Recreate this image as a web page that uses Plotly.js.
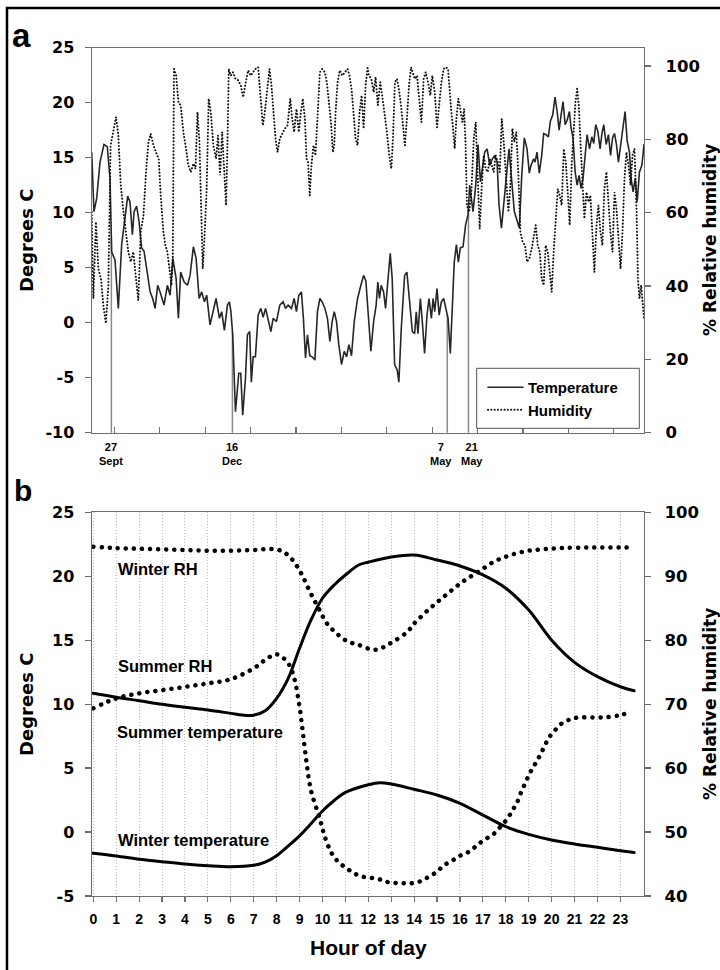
<!DOCTYPE html>
<html>
<head>
<meta charset="utf-8">
<script src="https://cdn.plot.ly/plotly-3.0.1.min.js"></script>
<style>
  html, body { margin: 0; padding: 0; background: #fff; }
  #chart { width: 720px; height: 970px; }
  path.js-line, .legendlines path { stroke-linecap: round; }
</style>
</head>
<body>
<div id="chart"></div>
<script>
// ---------- Panel a : daily series (day 0 = 14 Sept) ----------
const tempDays = [0,1.5,3.3,5.5,8.1,10.3,12.1,13.2,15.4,17.6,19.8,22.0,23.8,25.3,26.9,28.0,29.7,31.3,33.0,34.6,36.4,38.6,40.3,41.9,43.6,45.2,47.8,50.0,51.8,53.6,55.8,57.3,58.8,61.1,63.3,65.0,67.2,69.0,71.0,72.7,74.5,76.0,78.2,80.0,82.2,84.4,85.9,87.7,89.7,91.0,92.0,93.2,95.0,97.2,98.5,99.8,101.6,102.9,104.4,105.5,106.7,108.2,110.0,111.8,113.3,114.9,116.6,118.4,119.9,122.1,124.3,126.5,128.1,129.8,132.0,133.8,135.3,136.9,138.6,139.9,141.3,142.6,144.1,145.7,147.5,149.2,150.8,152.3,154.1,155.8,157.4,158.9,160.3,161.8,163.3,165.1,166.9,168.4,170.0,171.7,173.5,175.7,177.9,179.7,181.2,183.0,184.5,186.3,188.0,189.1,190.2,191.3,192.9,194.2,195.7,197.3,198.6,200.2,201.9,203.0,204.6,206.8,208.3,210.1,211.9,213.4,214.5,215.6,217.2,218.5,220.0,221.6,222.9,224.5,225.6,226.7,228.2,229.6,231.1,232.6,234.3,235.5,237.0,238.3,239.6,241.0,242.3,243.6,245.4,247.1,248.7,249.8,250.9,252.0,253.8,255.3,256.9,258.2,259.7,261.3,263.1,264.8,266.4,267.9,269.2,270.8,272.5,274.3,275.8,277.1,278.2,279.3,281.1,282.6,284.2,285.9,287.7,289.2,290.3,292.1,293.0,294.3,295.8,297.4,298.7,300.2,301.8,303.1,304.7,306.2,307.6,308.9,310.2,311.5,312.9,314.2,315.7,316.8,318.1,319.5,320.8,322.1,323.4,324.7,326.1,327.4,329.0,330.5,331.8,333.1,334.5,336.0,337.1,338.4,340.0,341.5,342.9,344.2,345.5,346.8,348.1,349.5,351.0,352.5,353.9,355.4,356.5,357.8,359.2,360.5,362.0,363.6,365.0];
const tempVals = [15.5,10.1,11.3,14.6,16.2,16.0,13.1,6.45,5.7,1.3,7.1,9.5,11.5,11.0,8.0,10.1,10.6,9.2,6.8,6.5,4.6,2.8,2.2,1.3,3.4,2.8,1.6,3.4,2.5,5.85,4.0,0.4,4.6,3.7,3.4,4.3,6.9,5.85,2.2,2.8,1.9,2.5,-0.2,1.0,2.2,0.4,1.0,-0.7,1.6,1.9,1.0,-1.1,-8.1,-4.6,-4.6,-8.4,-5.1,-1.1,-0.8,-5.4,-3.1,-3.1,0.7,1.3,0.5,1.3,0.4,-0.8,0.4,0.1,1.6,1.9,1.3,1.6,1.3,2.2,1.0,2.5,2.8,0.4,-3.2,-1.1,-3.0,-3.1,-3.4,1.0,2.2,1.9,1.3,0.4,-1.7,0.1,1.0,0.1,-2.0,-3.8,-2.6,-3.1,-2.0,-3.0,0.1,2.2,3.4,4.3,3.8,-0.2,-2.6,0.1,1.6,3.7,2.2,3.4,2.8,1.3,4.0,6.3,4.0,-3.8,-4.3,-5.4,-0.5,4.3,4.6,2.2,-0.8,-1.0,1.0,-1.0,2.2,0.1,-2.8,0.7,2.2,0.4,2.2,1.0,3.1,0.7,1.9,2.2,1.0,0.4,-2.8,1.9,5.5,7.1,5.5,6.8,6.9,8.9,9.8,12.5,11.0,10.1,12.5,16.2,12.8,14.0,15.5,15.8,14.3,14.9,15.2,14.6,10.7,8.6,11.0,13.9,15.8,13.7,11.9,10.1,9.3,8.6,13.4,16.8,15.8,13.6,14.3,14.9,14.6,15.5,13.6,15.2,17.2,17.1,16.9,18.3,18.9,20.5,19.2,17.5,18.9,20.1,18.0,18.4,19.2,17.7,16.8,13.7,12.5,13.4,12.2,13.1,15.2,17.1,15.8,16.9,16.3,18.0,17.4,15.8,17.1,18.0,16.2,17.1,15.2,16.8,17.2,16.2,14.6,16.0,17.4,19.2,16.5,15.5,13.1,11.9,13.1,11.0,13.7,14.3,16.2];

const humDays = [0,1.1,2.8,4.4,6.1,7.7,9.4,11.0,12.5,14.3,16.1,17.6,19.2,21.0,22.7,24.2,25.8,27.5,29.3,30.8,32.4,34.2,35.9,37.5,39.0,40.8,42.5,44.3,45.6,47.4,48.7,50.0,51.4,52.7,53.6,54.4,55.8,57.3,58.8,60.6,62.4,63.9,65.5,67.2,68.6,69.9,71.2,72.5,73.4,74.7,76.0,77.3,78.7,80.4,82.2,83.5,84.8,86.2,87.5,88.8,89.7,90.6,91.9,93.4,95.0,96.8,98.5,100.1,101.6,103.4,105.1,106.7,108.2,110.0,111.5,113.1,114.4,115.9,117.5,118.8,120.1,121.5,122.8,124.3,125.9,127.6,129.4,131.2,132.5,133.8,135.3,136.9,138.2,139.5,140.9,142.0,143.0,144.1,145.2,146.6,147.9,149.2,150.8,152.3,154.1,155.4,156.7,158.1,159.4,160.3,161.2,162.5,164.0,165.6,167.3,169.1,170.4,171.7,173.0,174.4,175.7,177.0,178.4,179.7,181.0,182.3,183.2,184.8,186.3,187.6,189.1,190.7,192.0,193.5,195.1,196.4,198.0,199.1,200.4,201.7,203.0,204.4,205.7,207.0,208.3,209.7,211.0,212.3,213.6,215.0,216.3,217.9,219.4,220.7,222.3,223.8,225.1,226.7,228.2,229.6,231.1,232.6,234.0,235.5,236.6,237.7,238.8,239.9,241.0,242.3,243.6,245.0,246.1,247.1,248.0,249.4,250.9,252.5,253.8,255.1,256.4,257.8,259.1,260.4,261.7,263.1,264.4,265.7,267.0,268.4,269.7,271.0,272.3,273.6,275.4,276.7,278.0,279.3,280.6,281.9,283.3,284.8,286.4,287.7,289.2,290.8,292.1,293.4,294.8,296.1,297.4,298.7,300.0,301.4,302.7,304.0,305.3,306.7,308.0,309.3,310.6,312.0,313.3,314.6,315.9,317.3,318.6,319.7,320.8,321.9,323.0,324.3,325.6,327.0,328.3,329.6,330.9,332.2,333.6,334.9,336.2,337.5,338.8,340.2,341.5,342.8,344.2,345.5,346.8,348.1,349.5,350.8,352.1,353.4,354.8,356.1,357.4,358.7,360.1,361.0,362.0,363.1,364.2,365.0];
const humVals = [60.2,36.6,57.5,44.7,42.0,34.8,29.8,40.2,78.4,82.0,86.1,81.1,67.5,60.2,54.7,49.3,46.6,49.3,42.0,36.1,54.7,59.3,71.1,79.3,81.5,78.4,76.5,74.7,64.7,54.7,51.1,49.3,44.7,40.2,47.5,99.2,97.4,90.2,89.3,82.0,77.4,72.9,71.1,73.4,72.0,87.4,79.3,54.7,44.7,54.7,66.5,91.1,87.4,78.4,74.7,81.1,70.2,82.0,71.1,62.0,78.4,99.2,97.4,98.3,96.5,96.1,94.7,91.5,95.2,98.8,97.4,98.3,99.2,99.7,92.9,83.8,87.4,93.8,99.2,94.7,87.4,80.2,76.5,80.2,81.5,82.9,83.8,91.1,85.6,82.0,88.3,82.0,87.4,91.1,85.6,74.7,73.8,64.7,72.9,78.4,75.6,86.5,98.3,99.2,98.3,95.6,91.1,84.7,76.5,78.4,87.4,95.6,98.8,97.4,98.3,99.2,97.4,93.8,87.4,80.2,78.4,87.4,92.0,82.9,94.7,99.5,97.4,96.5,92.9,97.0,89.3,95.6,92.0,87.4,82.0,76.5,72.0,80.2,95.6,96.5,93.8,89.3,83.8,78.4,85.6,94.7,99.7,98.3,96.5,97.4,92.0,84.7,96.5,98.3,95.6,92.0,97.4,92.9,83.3,89.3,95.6,99.2,99.7,99.2,92.0,87.4,82.9,77.5,85.6,91.1,88.3,84.7,88.3,78.4,62.0,60.2,65.6,80.2,84.7,71.1,55.6,67.5,75.6,72.0,71.1,74.7,72.9,71.1,75.6,73.8,71.1,85.6,79.3,71.1,60.2,67.5,82.9,79.3,82.0,71.1,54.7,52.0,51.1,46.6,47.5,50.2,52.9,56.6,51.1,49.3,42.0,40.2,51.1,49.3,43.8,38.4,49.3,60.2,66.5,64.7,62.0,77.4,73.8,65.6,56.6,73.8,84.7,90.2,93.8,89.3,79.3,67.5,58.4,65.6,62.9,64.7,54.7,43.8,56.6,62.0,54.7,51.1,66.5,71.1,62.9,54.7,49.3,65.6,61.1,52.9,44.7,54.7,69.3,76.5,72.9,67.5,75.6,77.4,60.2,42.0,36.6,40.2,33.8,31.1];

const markerDays   = [13, 93, 235, 249];
const markerLabels = ['27<br>Sept', '16<br>Dec', '7<br>May', '21<br>May'];
const monthTickDays = [15,45,75,105,135,165,195,225,255,285,315,345];
const tempTicksA = [-10,-5,0,5,10,15,20,25];
const humTicksA  = [0,20,40,60,80,100];

// ---------- Panel b : diurnal curves ----------
const sumTempHour = [0,1,2,3,4,5,6,6.5,7,7.5,8,8.5,9,9.5,10,10.5,11,11.6,12,13,14,15,16,17,18,19,20,21,22,23,23.6];
const sumTempVals = [10.85,10.54,10.27,9.99,9.75,9.54,9.28,9.15,9.14,9.49,10.46,12.0,14.37,16.58,18.28,19.3,20.1,20.9,21.1,21.5,21.66,21.27,20.8,20.1,19.06,17.36,15.0,13.27,12.15,11.36,11.05];

const winTempHour = [0,1,2,3,4,5,6,7,7.5,8,8.5,9,9.5,10,10.5,11,12,12.5,13,14,15,16,17,18,19,20,21,22,23,23.6];
const winTempVals = [-1.66,-1.87,-2.13,-2.32,-2.5,-2.63,-2.71,-2.6,-2.35,-1.85,-1.1,-0.3,0.65,1.65,2.45,3.1,3.7,3.86,3.76,3.34,2.9,2.25,1.33,0.42,-0.18,-0.62,-0.93,-1.19,-1.46,-1.6];

const winRHHour = [0,1,2,3,4,5,6,7,8,8.5,8.9,9.15,9.45,9.8,10.2,10.7,11.1,11.55,12.3,13.0,13.7,14.0,14.7,15.4,16.1,16.8,17.5,18.2,18.9,19.6,20.4,21.8,23.5];
const winRHVals = [94.6,94.4,94.3,94.2,94.1,94.0,94.0,94.1,94.2,93.3,91.5,89.9,87.6,85.2,82.6,80.8,79.8,79.3,78.5,79.6,81.3,82.6,85.0,87.1,89.1,90.7,92.3,93.3,93.95,94.2,94.4,94.5,94.5];

const sumRHHour = [0,1,2,3,4,5,6,7,7.5,8,8.5,8.75,9.0,9.15,9.32,9.5,9.9,10.1,10.4,10.7,11.07,11.4,11.79,12.45,12.81,13.17,13.54,13.9,14.27,14.63,15.0,15.28,15.65,16.0,16.38,16.74,17.06,17.44,17.76,18.05,18.3,18.49,18.63,18.78,18.93,19.11,19.32,19.5,19.68,19.87,20.13,20.45,20.79,21.14,22.0,22.5,23.0,23.3];
const sumRHVals = [69.35,70.9,71.7,72.2,72.7,73.25,73.9,75.6,76.9,77.8,76.4,74.3,69.6,65.4,60.5,56.5,51.9,49.3,46.7,45.3,44.3,43.5,43.0,42.65,42.2,42.05,42.0,42.0,42.3,43.0,43.8,44.75,45.5,46.3,46.9,47.9,48.8,49.6,50.8,52.0,53.45,54.6,55.9,57.1,58.3,59.6,60.9,62.05,63.35,64.7,65.85,67.0,67.6,67.9,67.9,68.0,68.3,68.6];

const hourTicks = Array.from({length: 24}, (_, i) => i);
const tempTicksB = [-5,0,5,10,15,20,25];
const humTicksB  = [40,50,60,70,80,90,100];

const curveLabels = ['Winter RH', 'Summer RH', 'Summer temperature', 'Winter temperature'];
const curveLabelX = [1.0, 1.0, 0.95, 1.0];
const curveLabelY = [20.57, 13.0, 7.82, -0.6];

// ---------- helpers ----------
function interp(xs, ys, x) {
  for (let i = 0; i < xs.length - 1; i++) {
    if (x >= xs[i] && x <= xs[i + 1]) {
      const t = (x - xs[i]) / (xs[i + 1] - xs[i]);
      return ys[i] + t * (ys[i + 1] - ys[i]);
    }
  }
  return ys[ys.length - 1];
}
const W = 720, H = 970;
const px = v => v / W;
const py = v => 1 - v / H;

const FONT = 'Liberation Sans, Arial, sans-serif';
const WIDE = 'DejaVu Sans, Verdana, sans-serif';
const AX = '#707070';

const dropX = [], dropY = [];
markerDays.forEach(d => { dropX.push(d, d, null); dropY.push(-10, interp(tempDays, tempVals, d), null); });

const traces = [
  { x: dropX, y: dropY, xaxis: 'x', yaxis: 'y', mode: 'lines', line: { color: '#8a8a8a', width: 1.5 }, showlegend: false, hoverinfo: 'skip' },
  { x: tempDays, y: tempVals, xaxis: 'x', yaxis: 'y', mode: 'lines', name: 'Temperature', line: { color: '#262626', width: 1.6 } },
  { x: humDays, y: humVals, xaxis: 'x', yaxis: 'y2', mode: 'lines', name: 'Humidity', line: { color: '#111', width: 2, dash: '0.1px,3.2px' } },
  { x: sumTempHour, y: sumTempVals, xaxis: 'x2', yaxis: 'y3', mode: 'lines', line: { color: '#000', width: 3, shape: 'spline' }, showlegend: false },
  { x: winTempHour, y: winTempVals, xaxis: 'x2', yaxis: 'y3', mode: 'lines', line: { color: '#000', width: 3, shape: 'spline' }, showlegend: false },
  { x: winRHHour, y: winRHVals, xaxis: 'x2', yaxis: 'y4', mode: 'lines', line: { color: '#000', width: 4.5, shape: 'spline', dash: '0.1px,8px' }, showlegend: false },
  { x: sumRHHour, y: sumRHVals, xaxis: 'x2', yaxis: 'y4', mode: 'lines', line: { color: '#000', width: 4.5, shape: 'spline', dash: '0.1px,8px' }, showlegend: false }
];

const bold = (size, fam) => ({ family: fam || FONT, size: size, color: '#000', weight: 'bold' });

const annotations = [];
markerDays.forEach((d, i) => {
  annotations.push({ xref: 'x', yref: 'paper', x: d, y: py(439), xanchor: 'center', yanchor: 'top',
    text: markerLabels[i], showarrow: false, font: bold(11), xshift: [0, 0, -6, 4][i] });
});
curveLabels.forEach((t, i) => {
  annotations.push({ xref: 'x2', yref: 'y3', x: curveLabelX[i], y: curveLabelY[i], xanchor: 'left', yanchor: 'middle',
    text: t, showarrow: false, font: bold(16.5) });
});
// panel letters
annotations.push({ xref: 'paper', yref: 'paper', x: px(10), y: py(36), xanchor: 'left', yanchor: 'middle', text: 'a', showarrow: false, font: bold(33) });
annotations.push({ xref: 'paper', yref: 'paper', x: px(12), y: py(490), xanchor: 'left', yanchor: 'middle', text: 'b', showarrow: false, font: bold(30) });
// axis titles
[240, 704].forEach(cy => {
  annotations.push({ xref: 'paper', yref: 'paper', x: px(26), y: py(cy), xanchor: 'center', yanchor: 'middle', textangle: -90,
    text: 'Degrees C', showarrow: false, font: bold(18, WIDE) });
  annotations.push({ xref: 'paper', yref: 'paper', x: px(710), y: py(cy), xanchor: 'center', yanchor: 'middle', textangle: -90,
    text: '% Relative humidity', showarrow: false, font: bold(17, WIDE) });
});
annotations.push({ xref: 'paper', yref: 'paper', x: px(368), y: py(947), xanchor: 'center', yanchor: 'middle',
  text: 'Hour of day', showarrow: false, font: bold(21) });

const axCommon = { showline: true, linecolor: AX, linewidth: 1.2, tickcolor: AX, tickwidth: 1.2, zeroline: false, showgrid: false, fixedrange: true };
const domA = [py(432.7), py(47.7)];
const domB = [py(896), py(512.3)];
const domX = [px(91.7), px(644)];

const layout = {
  width: W, height: H,
  margin: { l: 0, r: 0, t: 0, b: 0 },
  paper_bgcolor: '#fff', plot_bgcolor: 'rgba(0,0,0,0)',
  font: { family: FONT, color: '#000' },
  showlegend: true,
  legend: { x: px(483), y: py(371), xanchor: 'left', yanchor: 'top', bgcolor: 'rgba(0,0,0,0)', borderwidth: 0,
    font: bold(15), itemwidth: 35, tracegroupgap: 0 },
  xaxis: Object.assign({}, axCommon, { domain: domX, anchor: 'y', range: [0, 365], tickmode: 'array', tickvals: monthTickDays,
    ticks: 'inside', ticklen: 6, showticklabels: false, mirror: true }),
  yaxis: Object.assign({}, axCommon, { domain: domA, anchor: 'x', range: [-10, 25], tickmode: 'array',
    tickvals: tempTicksA, ticktext: tempTicksA.map(String),
    ticks: 'outside', ticklen: 6, tickfont: bold(16, WIDE), ticklabelstandoff: 7 }),
  yaxis2: Object.assign({}, axCommon, { overlaying: 'y', side: 'right', anchor: 'x', range: [0, 105], tickmode: 'array',
    tickvals: humTicksA, ticktext: humTicksA.map(String), ticks: 'outside', ticklen: 6, tickfont: bold(16.5, WIDE), ticklabelstandoff: 11 }),
  xaxis2: Object.assign({}, axCommon, { domain: domX, anchor: 'y3', range: [-0.07, 24.03], tickmode: 'array', tickvals: hourTicks,
    ticktext: hourTicks.map(String),
    ticks: 'outside', ticklen: 5, tickfont: bold(14), ticklabelstandoff: 5, mirror: true,
    showgrid: true, gridcolor: '#b8b8b8', gridwidth: 1, griddash: '1px,2px' }),
  yaxis3: Object.assign({}, axCommon, { domain: domB, anchor: 'x2', range: [-5, 25], tickmode: 'array',
    tickvals: tempTicksB, ticktext: tempTicksB.map(String),
    ticks: 'outside', ticklen: 6, tickfont: bold(16, WIDE), ticklabelstandoff: 7 }),
  yaxis4: Object.assign({}, axCommon, { overlaying: 'y3', side: 'right', anchor: 'x2', range: [40, 100], tickmode: 'array',
    tickvals: humTicksB, ticktext: humTicksB.map(String),
    ticks: 'outside', ticklen: 6, tickfont: bold(16.5, WIDE), ticklabelstandoff: 10 }),
  annotations: annotations,
  shapes: [
    { type: 'rect', xref: 'paper', yref: 'paper', x0: px(7), x1: 1.05, y0: -0.05, y1: py(8), line: { color: '#000', width: 2.5 }, fillcolor: 'rgba(0,0,0,0)' },
    { type: 'rect', xref: 'paper', yref: 'paper', layer: 'above', x0: px(476.7), x1: px(639.3), y0: py(428.3), y1: py(368.3),
      line: { color: '#555', width: 1 }, fillcolor: '#fff' }
  ]
};

Plotly.newPlot('chart', traces, layout, { staticPlot: true, displayModeBar: false });
</script>
</body>
</html>
